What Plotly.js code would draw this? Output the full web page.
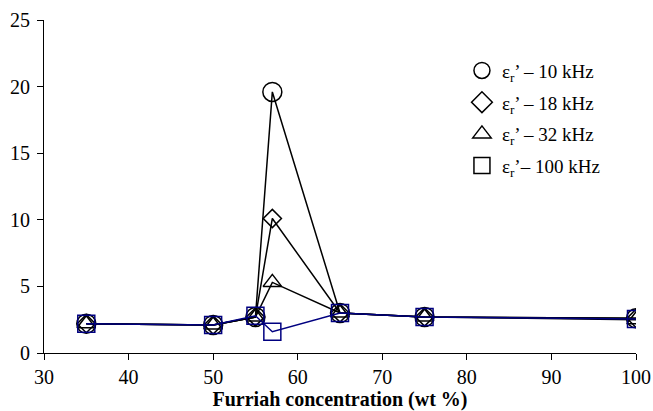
<!DOCTYPE html>
<html>
<head>
<meta charset="utf-8">
<script src="https://cdn.plot.ly/plotly-3.0.1.min.js"></script>
<style>html,body{margin:0;padding:0;background:#fff}#chart{width:653px;height:411px}</style>
</head>
<body>
<div id="chart"></div>
<script>
var concentration = [35, 50, 55, 57, 65, 75, 100];
var eps10kHz = [2.2, 2.1, 2.7, 19.6, 3.0, 2.7, 2.6];
var eps18kHz = [2.2, 2.1, 2.7, 10.1, 3.0, 2.7, 2.6];
var eps32kHz = [2.2, 2.1, 2.7, 5.3, 3.0, 2.7, 2.5];
var eps100kHz = [2.2, 2.1, 2.8, 1.6, 3.0, 2.7, 2.55];
var seriesNames = ["ε<sub>r</sub>’ – 10 kHz", "ε<sub>r</sub>’ – 18 kHz", "ε<sub>r</sub>’ – 32 kHz", "ε<sub>r</sub>’– 100 kHz"];
var xTicks = [30, 40, 50, 60, 70, 80, 90, 100];
var yTicks = [0, 5, 10, 15, 20, 25];

var symbols = ['circle-open', 'diamond-open', 'triangle-up-open', 'square-open'];
var sizes = [19, 14, 16, 17];
var colors = ['#000000', '#000000', '#000000', '#000080'];
var series = [eps10kHz, eps18kHz, eps32kHz, eps100kHz];

var data = [];
series.forEach(function (y, i) {
  data.push({
    x: concentration, y: y, name: seriesNames[i], type: 'scatter', mode: 'lines+markers',
    showlegend: false,
    line: {color: colors[i], width: 1.5},
    marker: {symbol: symbols[i], size: sizes[i], color: colors[i], line: {color: colors[i], width: 1.5}}
  });
});
series.forEach(function (y, i) {
  data.push({
    x: [null], y: [null], name: seriesNames[i], type: 'scatter', mode: 'markers',
    legendgroup: 'g' + i, showlegend: true,
    marker: {symbol: symbols[i], size: 16, color: '#000000', line: {width: 1.5}}
  });
});
var fam = 'Liberation Serif';
var layout = {
  width: 653, height: 411,
  margin: {l: 44, r: 17, t: 20, b: 58},
  paper_bgcolor: '#fff', plot_bgcolor: '#fff',
  font: {family: fam, size: 20, color: '#000'},
  showlegend: true,
  legend: {x: 0.706, y: 0.905, xanchor: 'left', yanchor: 'top', bgcolor: 'rgba(0,0,0,0)', font: {family: fam, size: 19, color: '#000'}, itemwidth: 30, tracegroupgap: 4},
  xaxis: {
    range: [30, 100], tickvals: xTicks,
    showgrid: false, zeroline: false, showline: true, linecolor: '#000', linewidth: 1,
    ticks: 'outside', ticklen: 6, tickcolor: '#000', tickfont: {family: fam, size: 20, color: '#000'},
    title: {text: '<b>Furriah concentration (wt %)</b>', font: {family: fam, size: 20, color: '#000'}, standoff: 4}
  },
  yaxis: {
    range: [0, 25], tickvals: yTicks, ticklabelstandoff: 3,
    showgrid: false, zeroline: false, showline: true, linecolor: '#000', linewidth: 1,
    ticks: 'outside', ticklen: 6, tickcolor: '#000', tickfont: {family: fam, size: 20, color: '#000'}
  }
};
Plotly.newPlot('chart', data, layout, {displayModeBar: false, staticPlot: true});
</script>
</body>
</html>
